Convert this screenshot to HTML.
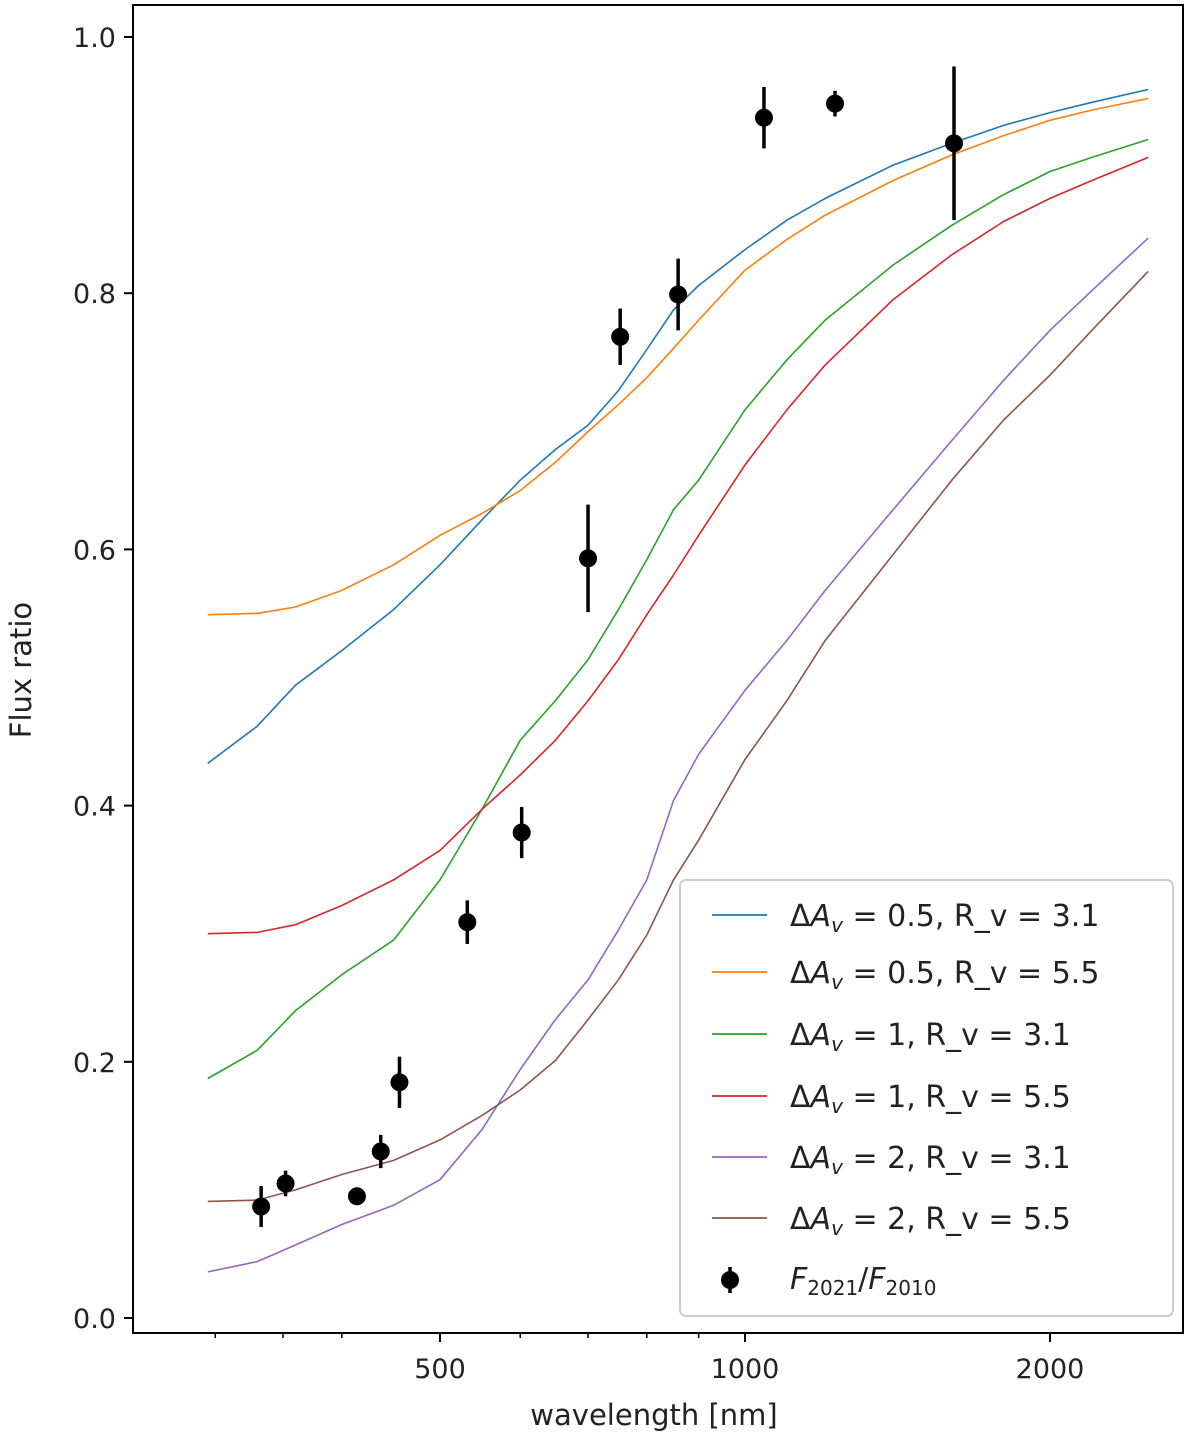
<!DOCTYPE html>
<html><head><meta charset="utf-8"><style>
body{margin:0;background:#fff;}
svg text{font-family:"DejaVu Sans","Liberation Sans",sans-serif;fill:#222;}
</style></head><body>
<svg id="chart" width="1200" height="1435" xmlns="http://www.w3.org/2000/svg">
<g id="curves"></g>
<g id="points"></g>
<rect x="133" y="5" width="1050" height="1328" fill="none" stroke="#000" stroke-width="2"/>
<g id="axes"></g>
<text x="654" y="1425" text-anchor="middle" font-size="29">wavelength [nm]</text>
<text transform="translate(31,670) rotate(-90)" text-anchor="middle" font-size="29">Flux ratio</text>
<g id="legend"></g>
</svg>
<script>
const wavelengths=[295,330,360,400,450,500,550,600,650,700,750,800,850,900,1000,1100,1200,1400,1600,1800,2000,2200,2500];
const blueAv05Rv31=[0.433,0.462,0.494,0.521,0.553,0.588,0.623,0.654,0.678,0.697,0.724,0.756,0.787,0.806,0.834,0.857,0.874,0.900,0.917,0.931,0.941,0.949,0.959];
const orangeAv05Rv55=[0.549,0.550,0.555,0.568,0.588,0.611,0.628,0.646,0.668,0.692,0.713,0.734,0.757,0.779,0.818,0.842,0.861,0.888,0.908,0.923,0.935,0.943,0.952];
const greenAv1Rv31=[0.187,0.209,0.240,0.268,0.295,0.342,0.397,0.451,0.482,0.514,0.553,0.592,0.631,0.654,0.709,0.748,0.779,0.822,0.853,0.877,0.895,0.906,0.920];
const redAv1Rv55=[0.300,0.301,0.307,0.322,0.342,0.365,0.397,0.424,0.451,0.482,0.514,0.549,0.580,0.611,0.666,0.709,0.744,0.795,0.830,0.856,0.874,0.888,0.906];
const purpleAv2Rv31=[0.036,0.044,0.057,0.073,0.088,0.108,0.147,0.194,0.233,0.264,0.303,0.342,0.404,0.440,0.490,0.529,0.568,0.631,0.685,0.732,0.771,0.802,0.843];
const brownAv2Rv55=[0.091,0.092,0.100,0.112,0.123,0.139,0.158,0.178,0.201,0.233,0.264,0.299,0.342,0.373,0.436,0.482,0.529,0.596,0.654,0.701,0.736,0.771,0.817];
const obsWavelengths=[333,352,414,437,456,532,602,700,753,859,1044,1227,1608];
const obsRatio=[0.087,0.105,0.095,0.130,0.184,0.309,0.379,0.593,0.766,0.799,0.937,0.948,0.917];
const obsErr=[0.016,0.010,0.005,0.013,0.020,0.017,0.020,0.042,0.022,0.028,0.024,0.010,0.060];
const yTicks=[0.0,0.2,0.4,0.6,0.8,1.0];
const yTickLabels=["0.0","0.2","0.4","0.6","0.8","1.0"];
const xTicks=[500,1000,2000];
const xTickLabels=["500","1000","2000"];
const xMinorTicks=[300,350,400,600,700,800,900];
const avLabels=["0.5","0.5","1","1","2","2"];
const rvLabels=["3.1","5.5","3.1","5.5","3.1","5.5"];
const colors=["#1f77b4","#ff7f0e","#2ca02c","#d62728","#9467bd","#8c564b"];
const seriesList=[blueAv05Rv31,orangeAv05Rv55,greenAv1Rv31,redAv1Rv55,purpleAv2Rv31,brownAv2Rv55];
const NS="http://www.w3.org/2000/svg";
function xs(w){return 440+305*Math.log2(w/500);}
function ys(v){return 1318-1281*v;}
function mk(t,a,p){const e=document.createElementNS(NS,t);for(const k in a)e.setAttribute(k,a[k]);p.appendChild(e);return e;}
const cg=document.getElementById('curves');
seriesList.forEach((s,i)=>{
 const pts=s.map((v,j)=>xs(wavelengths[j]).toFixed(1)+','+ys(v).toFixed(1)).join(' ');
 const pl=mk('polyline',{points:pts,fill:'none',stroke:colors[i],'stroke-width':1.6,'stroke-linejoin':'round'},cg);
 
 
});
const pg=document.getElementById('points');
obsWavelengths.forEach((w,i)=>{
 const x=xs(w);
 const l=mk('line',{x1:x,x2:x,y1:ys(obsRatio[i]-obsErr[i]),y2:ys(obsRatio[i]+obsErr[i]),stroke:'#000','stroke-width':3.5},pg);
 
 
 const c=mk('circle',{cx:x,cy:ys(obsRatio[i]),r:9,fill:'#000'},pg);
 
 
});
const ag=document.getElementById('axes');
yTicks.forEach((v,i)=>{
 const y=ys(v);
 mk('line',{x1:124,x2:133,y1:y,y2:y,stroke:'#000','stroke-width':2},ag);
 const t=mk('text',{x:116,y:y+10,'text-anchor':'end','font-size':27},ag);
 t.textContent=yTickLabels[i];
 
 
});
xTicks.forEach((w,i)=>{
 const x=xs(w);
 mk('line',{x1:x,x2:x,y1:1333,y2:1342,stroke:'#000','stroke-width':2},ag);
 const t=mk('text',{x:x,y:1378,'text-anchor':'middle','font-size':27},ag);
 t.textContent=xTickLabels[i];
 
 
});
xMinorTicks.forEach(w=>{const x=xs(w);mk('line',{x1:x,x2:x,y1:1333,y2:1338,stroke:'#000','stroke-width':1.5},ag);});
const lg=document.getElementById('legend');
mk('rect',{x:680,y:880,width:493,height:436,rx:6,fill:'#fff','fill-opacity':0.85,stroke:'#ccc','stroke-width':2},lg);
const rowY=[915,972,1034,1096,1157,1218];
avLabels.forEach((a,i)=>{
 const y=rowY[i];
 mk('line',{x1:712,x2:767,y1:y,y2:y,stroke:colors[i],'stroke-width':1.8},lg);
 const t=mk('text',{x:790,y:y+11,'font-size':30},lg);
 
 
 t.innerHTML='Δ<tspan font-style="italic">A</tspan><tspan font-style="italic" font-size="20" dy="6">v</tspan><tspan dy="-6"> = '+a+', R_v = '+rvLabels[i]+'</tspan>';
});
mk('line',{x1:730,x2:730,y1:1267,y2:1293,stroke:'#000','stroke-width':3.5},lg);
mk('circle',{cx:730,cy:1280,r:9,fill:'#000'},lg);
const lt=mk('text',{x:790,y:1289,'font-size':30},lg);


lt.innerHTML='<tspan font-style="italic">F</tspan><tspan font-size="20" dy="6">2021</tspan><tspan dy="-6">/</tspan><tspan font-style="italic">F</tspan><tspan font-size="20" dy="6">2010</tspan>';
</script>
</body></html>
